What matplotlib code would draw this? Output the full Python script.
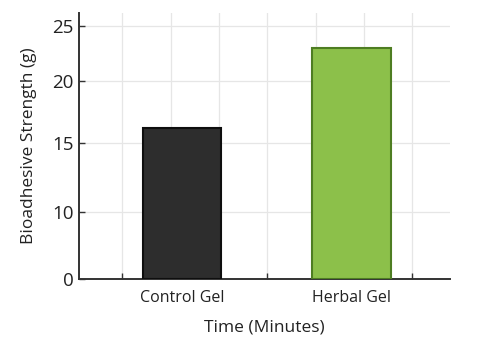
import matplotlib
matplotlib.use("Agg")
import matplotlib.pyplot as plt
import numpy as np

# data
groups = ["Control Gel", "Herbal Gel"]
strength = [16.2, 23.0]
bar_pos = [0.41, 1.58]
bar_colors = ["#2d2d2d", "#8cc04a"]
edge_colors = ["#0e0e0e", "#4e7d22"]

# the reference axis is not linear: value -> visual height knots
y_ticks = [0, 10, 15, 20, 25]
knot_vals = [0, 10, 15, 20, 25, 30]
knot_pos = [0, 67, 136, 198, 253, 308]


def _forward(v):
    return np.interp(v, knot_vals, knot_pos)


def _inverse(p):
    return np.interp(p, knot_pos, knot_vals)


plt.rcParams["font.family"] = ["Open Sans", "DejaVu Sans"]

fig = plt.figure(figsize=(4.84, 3.6), dpi=100, facecolor="white")
ax = fig.add_axes([0.163, 0.225, 0.767, 0.739])

ax.bar(bar_pos, strength, width=0.54, color=bar_colors,
       edgecolor=edge_colors, linewidth=1.5, zorder=3)

ax.set_yscale("function", functions=(_forward, _inverse))
ax.set_ylim(0, 26.2)
ax.set_xlim(-0.3, 2.26)

ax.set_yticks(y_ticks)
ax.set_yticklabels([str(t) for t in y_ticks], fontsize=13.5, color="#222222")
ax.tick_params(axis="y", direction="in", length=4, width=1, color="#333333", pad=4)
ax.grid(axis="y", which="major", color="#e6e6e6", linewidth=0.9, zorder=0)

# tick marks at whole units, category labels under the bars
ax.set_xticks([0, 1, 2])
ax.set_xticklabels([])
ax.tick_params(axis="x", which="major", direction="in", length=4, width=1, color="#333333")
ax.set_xticks(bar_pos, minor=True)
ax.set_xticklabels(groups, minor=True, fontsize=11.5, color="#222222")
ax.tick_params(axis="x", which="minor", length=0, pad=8)

# vertical grid every third of a unit
for gx in np.arange(0, 2.01, 1 / 3):
    ax.axvline(gx, color="#e6e6e6", linewidth=0.9, zorder=0)

for side in ("top", "right"):
    ax.spines[side].set_visible(False)
for side in ("left", "bottom"):
    ax.spines[side].set_color("#333333")
    ax.spines[side].set_linewidth(1.4)

ax.set_ylabel("Bioadhesive Strength (g)", fontsize=12.5, color="#222222", labelpad=11)
ax.set_xlabel("Time (Minutes)", fontsize=12.5, color="#222222", labelpad=10)

fig.savefig("out.png", dpi=100, facecolor="white")
